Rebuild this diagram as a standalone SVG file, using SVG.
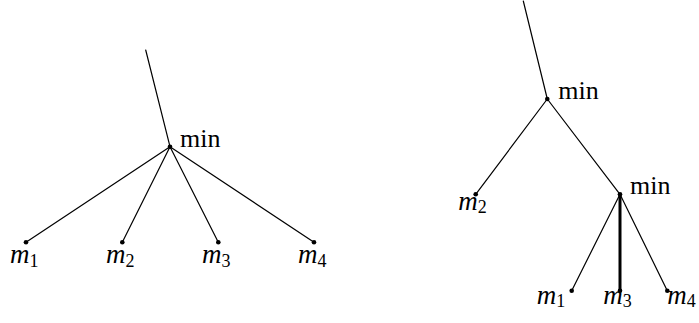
<svg xmlns="http://www.w3.org/2000/svg" width="699" height="323" viewBox="0 0 699 323">
<style>
.e{stroke:#000;stroke-width:1.2;fill:none;stroke-linecap:round}
.b{stroke:#000;stroke-width:3;fill:none}
.d{fill:#000}
text{font-family:'Liberation Serif','Times New Roman','DejaVu Serif',serif;fill:#000}
.t{font-size:26px}
.v{font-style:italic;font-size:27px}
.s{font-style:normal;font-size:18px}
</style>
<rect width="699" height="323" fill="#fff"/>
<g id="connectors">
<line class="e" x1="145.7" y1="50" x2="170" y2="146.7"/>
<line class="e" x1="170" y1="146.7" x2="26" y2="242.3"/>
<line class="e" x1="170" y1="146.7" x2="122.3" y2="242.3"/>
<line class="e" x1="170" y1="146.7" x2="218.3" y2="242.3"/>
<line class="e" x1="170" y1="146.7" x2="314" y2="242.3"/>
<line class="e" x1="523.3" y1="1" x2="547.3" y2="99"/>
<line class="e" x1="547.3" y1="99" x2="475.7" y2="194.3"/>
<line class="e" x1="547.3" y1="99" x2="620" y2="194.3"/>
<line class="e" x1="620" y1="194.3" x2="571.7" y2="290.7"/>
<line class="b" x1="620" y1="194.3" x2="620" y2="290.7"/>
<line class="e" x1="620" y1="194.3" x2="667.3" y2="290.7"/>
</g>
<g id="L-min"><circle class="d" cx="170" cy="146.7" r="2.3"/><text class="t" x="180" y="146.7" font-family="Liberation Serif">min</text></g>
<g id="L-m1"><circle class="d" cx="26" cy="242.3" r="2.3"/><text class="v" x="10" y="263.3">m<tspan class="s" dy="3.4">1</tspan></text></g>
<g id="L-m2"><circle class="d" cx="122.3" cy="242.3" r="2.3"/><text class="v" x="106" y="263.3">m<tspan class="s" dy="3.4">2</tspan></text></g>
<g id="L-m3"><circle class="d" cx="218.3" cy="242.3" r="2.3"/><text class="v" x="202" y="263.3">m<tspan class="s" dy="3.4">3</tspan></text></g>
<g id="L-m4"><circle class="d" cx="314" cy="242.3" r="2.3"/><text class="v" x="298" y="263.3">m<tspan class="s" dy="3.4">4</tspan></text></g>
<g id="R-min1"><circle class="d" cx="547.3" cy="99" r="2.3"/><text class="t" x="558.3" y="99">min</text></g>
<g id="R-m2"><circle class="d" cx="475.7" cy="194.3" r="2.3"/><text class="v" x="458.3" y="209.5">m<tspan class="s" dy="3.4">2</tspan></text></g>
<g id="R-min2"><circle class="d" cx="620" cy="194.3" r="2.3"/><text class="t" x="630" y="194.3">min</text></g>
<g id="R-m1"><circle class="d" cx="571.7" cy="290.7" r="2.3"/><text class="v" x="536.7" y="303.5">m<tspan class="s" dy="3.4">1</tspan></text></g>
<g id="R-m3"><circle class="d" cx="620" cy="290.7" r="2.3"/><text class="v" x="603.3" y="303.5">m<tspan class="s" dy="3.4">3</tspan></text></g>
<g id="R-m4"><circle class="d" cx="667.3" cy="290.7" r="2.3"/><text class="v" x="667.3" y="303.5">m<tspan class="s" dy="3.4">4</tspan></text></g>
</svg>
